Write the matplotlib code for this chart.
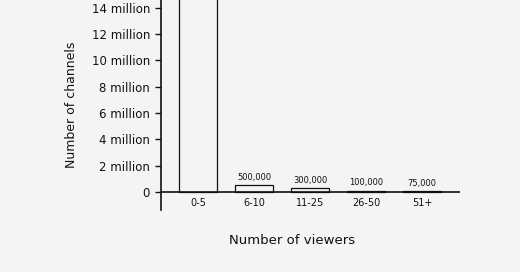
import matplotlib
matplotlib.use("Agg")
import matplotlib.pyplot as plt

categories = ["0-5", "6-10", "11-25", "26-50", "51+"]
channels = [16_000_000, 500_000, 300_000, 100_000, 75_000]
value_labels = ["", "500,000", "300,000", "100,000", "75,000"]
yticks = [0, 2_000_000, 4_000_000, 6_000_000, 8_000_000, 10_000_000, 12_000_000, 14_000_000]
ytick_labels = ["0", "2 million", "4 million", "6 million", "8 million",
                "10 million", "12 million", "14 million"]

bg = "#f4f4f4"
plt.rcParams["font.family"] = ["DejaVu Sans"]

fig = plt.figure(figsize=(5.2, 2.72), dpi=100, facecolor=bg)
ax = fig.add_axes([0.31, 0.228, 0.575, 0.772])
ax.set_facecolor(bg)

x = list(range(len(categories)))
ax.bar(x, channels, width=0.68, facecolor=bg, edgecolor="#111111", linewidth=0.9)
for xi, v, lab in zip(x, channels, value_labels):
    if lab:
        ax.text(xi, v + 250_000, lab, ha="center", va="bottom", fontsize=6, color="#111111")

ax.set_xlim(-0.66, 4.68)
ax.set_ylim(-1_370_000, 14_600_000)
ax.axhline(0, color="#111111", linewidth=1.2)

ax.set_yticks(yticks)
ax.set_yticklabels(ytick_labels, fontsize=8.5, color="#111111")
ax.tick_params(axis="y", length=4, width=1, pad=4, color="#111111")
ax.set_xticks([])
for xi, cat in zip(x, categories):
    ax.text(xi, -850_000, cat, ha="center", va="center", fontsize=7, color="#111111")

for s in ["top", "right", "bottom"]:
    ax.spines[s].set_visible(False)
ax.spines["left"].set_linewidth(1.2)
ax.spines["left"].set_color("#111111")

ax.set_ylabel("Number of channels", fontsize=9, color="#111111", labelpad=10)
fig.text(292 / 520, 1 - 241 / 272, "Number of viewers", ha="center", va="center",
         fontsize=9.5, color="#111111")

fig.savefig("out.png", dpi=100, facecolor=bg)
